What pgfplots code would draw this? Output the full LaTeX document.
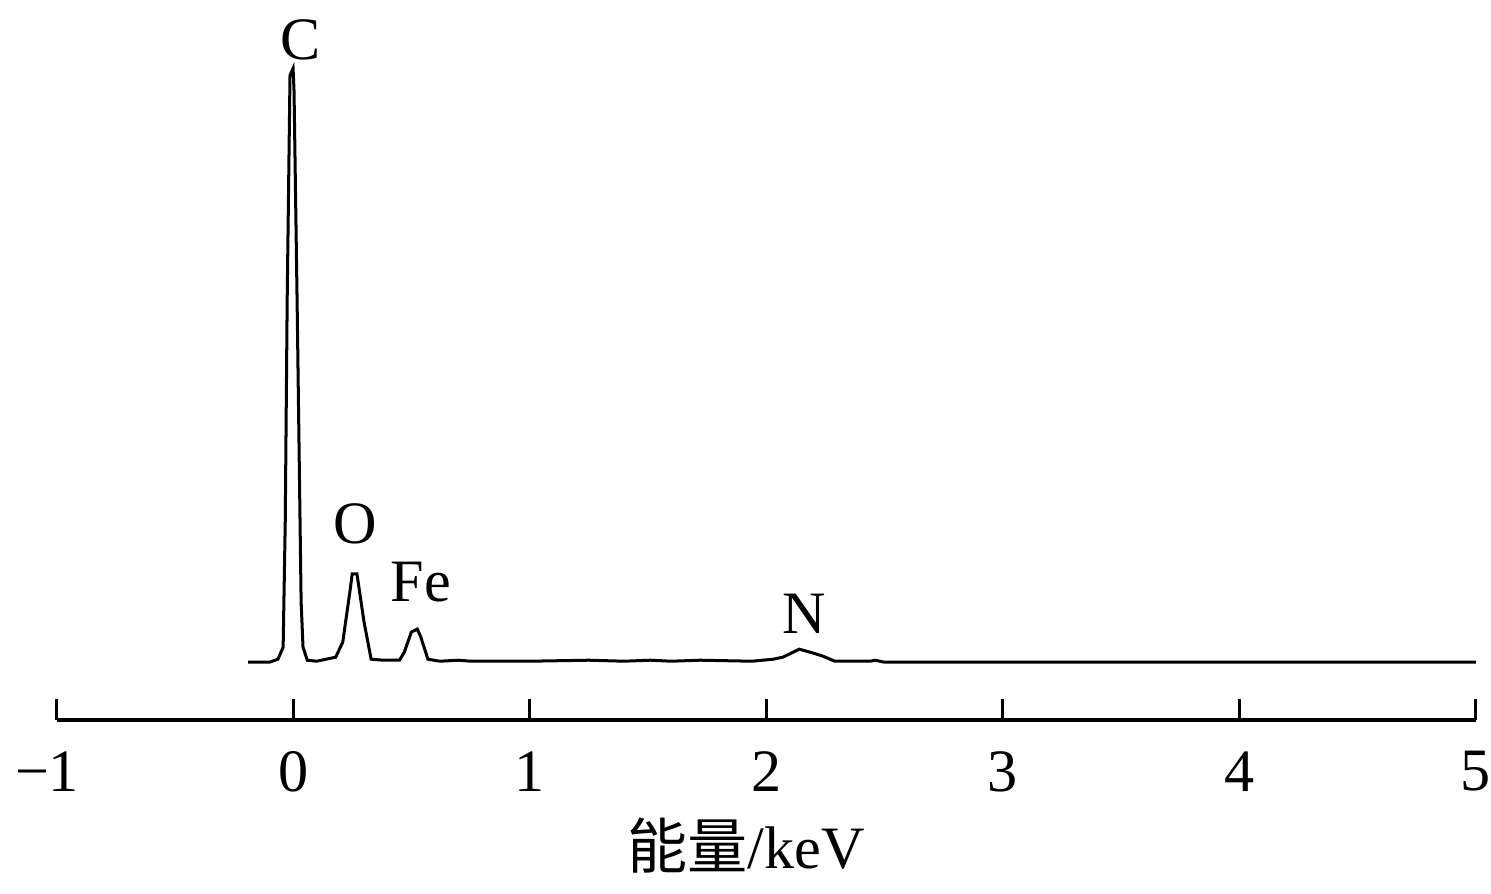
\documentclass[border=0pt]{standalone}
\usepackage{pgfplots}
\pgfplotsset{compat=1.18}
\usepackage{fontspec}
\setmainfont{Liberation Serif}
\newfontfamily\cjk{Noto Sans CJK SC}
\begin{document}
\fontsize{12}{14}\selectfont
\begin{tikzpicture}
\begin{axis}[
    scale only axis,
    width=283pt, height=139.6pt,
    xmin=-1, xmax=5,
    ymin=0, ymax=698,
    axis x line=bottom,
    axis y line=none,
    axis line style={line width=0.8pt, -},
    tick align=inside,
    xtick={-1,0,...,5},
    xticklabels={\hspace{3pt}−1\hphantom{−}\hspace{3pt},0,1,2,3,4,5},
    major tick length=4.2pt,
    tick style={line width=0.6pt, black},
    xticklabel style={yshift=-2pt, inner xsep=0pt},
    xlabel={{\cjk 能量}/keV},
    xlabel style={at={(axis description cs:0.5,0)}, anchor=center,
        yshift=-25pt, xshift=-4pt},
    clip=false,
]
\addplot[black, line width=0.6pt] coordinates {
    (-0.19,58) (-0.10,58) (-0.064,61) (-0.042,73) (-0.033,200) (-0.025,418)
    (-0.013,643) (0.0,650) (0.004,628) (0.017,418) (0.034,118) (0.042,73)
    (0.06,60) (0.10,59) (0.18,63) (0.21,78) (0.24,128) (0.25,146) (0.27,146)
    (0.30,98) (0.33,61) (0.38,60) (0.45,60) (0.47,68) (0.50,88) (0.525,91)
    (0.54,83) (0.57,61) (0.62,59) (0.70,60) (0.75,59) (1.0,59) (1.25,60)
    (1.40,59) (1.51,60) (1.60,59) (1.72,60) (1.94,59) (2.03,61) (2.07,63)
    (2.14,71) (2.20,67) (2.24,64) (2.29,59) (2.44,59) (2.46,60) (2.50,58)
    (3.0,58) (4.0,58) (5.0,58)
};
\node at (axis cs:0.03,678) {C};
\node at (axis cs:0.263,196) {O};
\node at (axis cs:0.54,138) {Fe};
\node at (axis cs:2.16,106) {N};
\end{axis}
\end{tikzpicture}
\end{document}
